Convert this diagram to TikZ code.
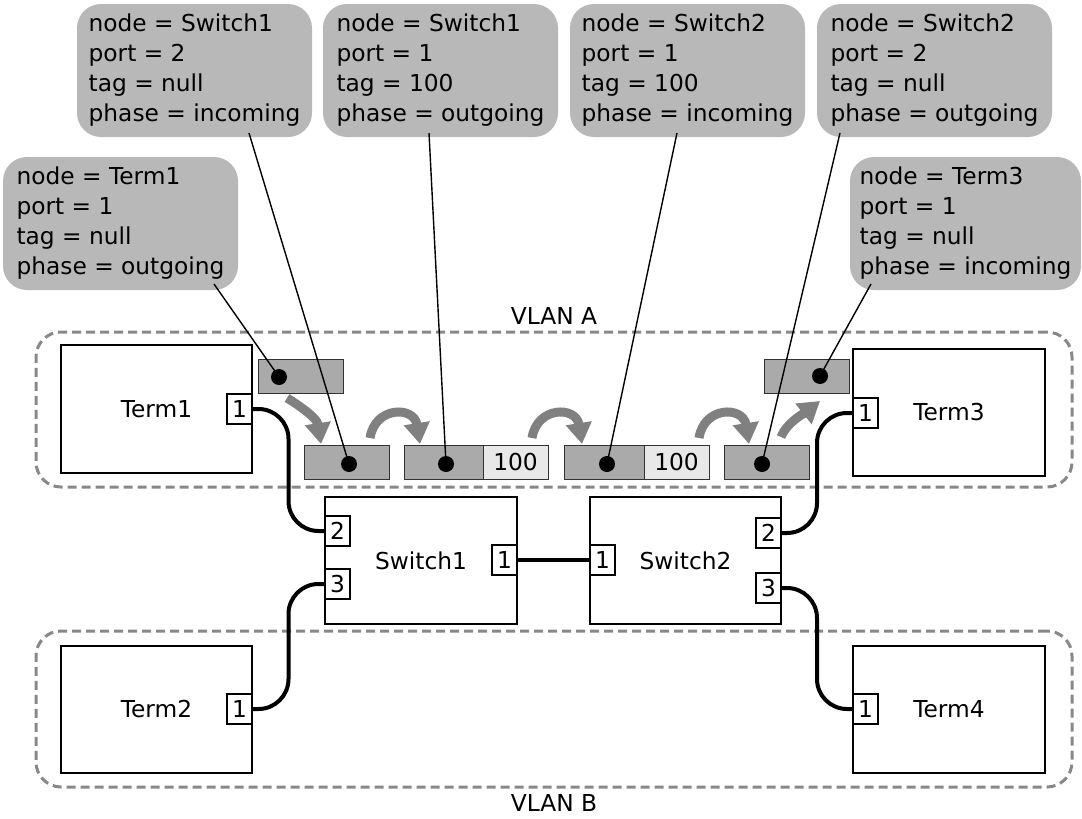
\documentclass[tikz,border=0pt]{standalone}
\usepackage{fontspec}
\setmainfont{DejaVu Sans}
\usetikzlibrary{arrows.meta,calc}
\definecolor{callfill}{RGB}{184,184,184}
\definecolor{pktdarkc}{RGB}{170,170,170}
\definecolor{pktlightc}{RGB}{232,232,232}
\definecolor{arrgray}{RGB}{128,128,128}
\definecolor{vlangray}{RGB}{136,136,136}
\definecolor{pktline}{RGB}{50,50,50}
\begin{document}
\begin{tikzpicture}[x=1pt,y=-1pt,
  every node/.style={font=\fontsize{23.3}{30}\selectfont, inner sep=0pt, outer sep=0pt},
  termbox/.style={draw, line width=1.5pt, fill=white, minimum width=191pt, minimum height=127pt},
  portbox/.style={draw, line width=1.5pt, fill=white, minimum width=25pt, minimum height=30pt},
  pktd/.style={draw=pktline, line width=1pt, fill=pktdarkc, minimum height=34pt},
  pktl/.style={draw=pktline, line width=1pt, fill=pktlightc, minimum height=34pt, minimum width=65pt},
  pdot/.style={circle, fill=black, minimum size=16pt},
  callout/.style={fill=callfill, rounded corners=24pt, align=left, minimum width=235pt, minimum height=133pt, anchor=north west},
  vlanbox/.style={draw=vlangray, line width=3pt, dash pattern=on 9pt off 5pt, rounded corners=25pt, minimum width=1036pt},
  cable/.style={line width=4pt, rounded corners=30pt},
  callline/.style={line width=1.4pt},
  flowarrow/.style={draw=arrgray, line width=9pt, -{Triangle[width=25pt,length=21pt]}, arrgray}
]
\useasboundingbox (0,0) rectangle (1082,819);

% VLAN areas
\node[vlanbox, minimum height=155pt] (vlanA) at (554,409.5) {};
\node[vlanbox, minimum height=156pt] (vlanB) at (554,709) {};
\node (lblA) at (554,316) {VLAN A};
\node (lblB) at (554,803) {VLAN B};

% terminals and switches
\node[termbox, minimum height=128pt] (term1) at (156.5,409) {Term1};
\node[termbox, minimum width=192pt] (term3) at (949,412.5) {Term3};
\node[termbox] (term2) at (156.5,709.5) {Term2};
\node[termbox, minimum width=192pt] (term4) at (949,709.5) {Term4};
\node[termbox, minimum width=192pt] (sw1) at (421,560.5) {Switch1};
\node[termbox] (sw2) at (685.5,560.5) {Switch2};

% ports
\node[portbox] (t1p) at (239.5,409) {1};
\node[portbox] (t3p) at (865.5,413) {1};
\node[portbox] (t2p) at (239.5,709) {1};
\node[portbox] (t4p) at (865.5,709) {1};
\node[portbox] (s1p2) at (337.5,531) {2};
\node[portbox] (s1p3) at (337.5,584) {3};
\node[portbox] (s1p1) at (504.5,560) {1};
\node[portbox] (s2p1) at (602.5,560) {1};
\node[portbox] (s2p2) at (768.5,533) {2};
\node[portbox] (s2p3) at (768.5,588) {3};

% cables
\draw[cable] (t1p.east) -| ($(t1p.east)!0.5!(s1p2.west)$) |- (s1p2.west);
\draw[cable] (t2p.east) -| ($(t2p.east)!0.5!(s1p3.west)$) |- (s1p3.west);
\draw[cable] (s2p2.east) -| ($(s2p2.east)!0.5!(t3p.west)$) |- (t3p.west);
\draw[cable] (s2p3.east) -| ($(s2p3.east)!0.5!(t4p.west)$) |- (t4p.west);
\draw[cable] (s1p1.east) -- (s2p1.west);

% packets
\node[pktd, minimum width=85pt] (pk1) at (300.5,376) {};
\node[pktd, minimum width=85pt] (pk2) at (346.5,462) {};
\node[pktd, minimum width=79pt] (pk3a) at (443.5,462) {};
\node[pktl] (pk3b) at (515.5,462) {100};
\node[pktd, minimum width=80pt] (pk4a) at (604,462) {};
\node[pktl] (pk4b) at (676.5,462) {100};
\node[pktd, minimum width=85pt] (pk5) at (766.5,462) {};
\node[pktd, minimum width=85pt] (pk6) at (806.5,376) {};

% flow arrows
\coordinate (a1s) at (287,398); \coordinate (a1e) at (321,444);
\coordinate (a2s) at (370,438); \coordinate (a2e) at (420,444);
\coordinate (a3s) at (532,438); \coordinate (a3e) at (582,444);
\coordinate (a4s) at (699,438); \coordinate (a4e) at (749,444);
\coordinate (a5s) at (781,437); \coordinate (a5e) at (820,401);
\draw[flowarrow] (a1s) .. controls (300,406) and (317,418) .. (a1e);
\draw[flowarrow] (a2s) .. controls (375,406) and (414,406) .. (a2e);
\draw[flowarrow] (a3s) .. controls (537,406) and (576,406) .. (a3e);
\draw[flowarrow] (a4s) .. controls (704,406) and (743,406) .. (a4e);
\draw[flowarrow] (a5s) .. controls (787,422) and (806,412) .. (a5e);

% dots
\node[pdot] (d1) at (279,377) {};
\node[pdot] (d2) at (349,464) {};
\node[pdot] (d3) at (446,464) {};
\node[pdot] (d4) at (607,464) {};
\node[pdot] (d5) at (762,464) {};
\node[pdot] (d6) at (820,376) {};

% callouts
\node[callout] (cT1) at (3,157) {node = Term1\\port = 1\\tag = null\\phase = outgoing};
\node[callout] (cA) at (77,4) {node = Switch1\\port = 2\\tag = null\\phase = incoming};
\node[callout] (cB) at (323,4) {node = Switch1\\port = 1\\tag = 100\\phase = outgoing};
\node[callout] (cC) at (570,4) {node = Switch2\\port = 1\\tag = 100\\phase = incoming};
\node[callout] (cD) at (817,4) {node = Switch2\\port = 2\\tag = null\\phase = outgoing};
\node[callout, minimum width=231pt] (cE) at (850,157) {node = Term3\\port = 1\\tag = null\\phase = incoming};

% callout lines
\draw[callline] ($(cT1.south west)+(211,-6)$) -- (d1.center);
\draw[callline] ($(cA.south west)+(172,-4)$) -- (d2.center);
\draw[callline] ($(cB.south west)+(106,-4)$) -- (d3.center);
\draw[callline] ($(cC.south west)+(107,-4)$) -- (d4.center);
\draw[callline] ($(cD.south west)+(23,-4)$) -- (d5.center);
\draw[callline] ($(cE.south west)+(21,-6)$) -- (d6.center);
\end{tikzpicture}
\end{document}
